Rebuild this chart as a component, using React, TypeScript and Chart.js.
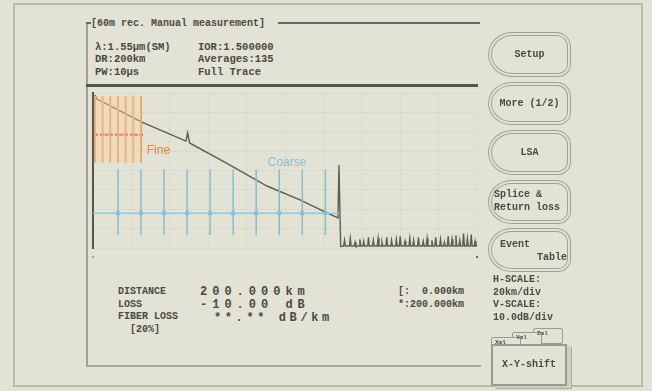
import React, { useEffect, useRef } from "react";
import { Chart, registerables } from "chart.js";
Chart.register(...registerables);

// ---- data ----
const traceKm = [1, 2, 25.5, 48.4, 49.3, 50.3, 70, 90.6, 107.8, 120.8, 127.6, 128.1, 129.0];
const traceDb = [-1, -3.1, -15.0, -24.8, -20.6, -25.8, -36.5, -48.0, -55.2, -61.4, -64.5, -37.2, -79.2];

const noiseFloorDb = -79;
const noiseSpikeKm = [131, 134, 136.5, 139, 141, 143.5, 146, 148.5, 150.5, 153, 155.5, 158, 160, 162.5, 165,
  167, 169.5, 172, 174, 176.5, 178.5, 181, 183, 185, 187, 189, 191, 193, 195, 197, 199];
const noiseSpikeDb = [-76, -75, -77, -75.5, -76.5, -74.5, -76, -75, -77, -74.5, -76, -75.5, -74, -76.5, -75,
  -76, -74.5, -76.5, -75, -76, -74.5, -75.5, -77, -74, -75.5, -73.5, -76, -72.5, -75, -73, -76.5];
const noiseEndKm = 200;

const fineKm = [1, 5, 9, 13, 17, 21, 25];
const fineTopDb = -1.5;
const fineBottomDb = -36;
const fineLevelDb = -21.5;

const coarseKm = [13, 25, 37, 49, 61, 73, 85, 97, 109, 121];
const coarseTopDb = -39.5;
const coarseBottomDb = -73.4;
const coarseLevelDb = -62;
const coarseSpanKm = [0, 128];

const xRangeKm = [0, 200];
const yRangeDb = [-80, 0];
const xStepKm = 20;
const yStepDb = 10;

const headerLeft = ["λ:1.55μm(SM)", "DR:200km", "PW:10μs"];
const headerRight = ["IOR:1.500000", "Averages:135", "Full Trace"];
const title = "[60m rec. Manual measurement]";

function segs(xs: number[], top: number, bottom: number) {
  const out: any[] = [];
  xs.forEach((k) => {
    out.push({ x: k, y: top }, { x: k, y: bottom }, { x: k, y: null });
  });
  return out;
}

function tracePoints() {
  const pts: any[] = traceKm.map((k, i) => ({ x: k, y: traceDb[i] }));
  noiseSpikeKm.forEach((k, i) => {
    pts.push({ x: k - 0.45, y: noiseFloorDb }, { x: k, y: noiseSpikeDb[i] }, { x: k + 0.45, y: noiseFloorDb });
  });
  pts.push({ x: noiseEndKm, y: noiseFloorDb });
  return pts;
}

const INK = "#4a4a42";
const MONO = '"Liberation Mono", "DejaVu Sans Mono", monospace';

function T(props: { x: number; y: number; children: any; size?: number; ls?: number; bold?: boolean; color?: string; align?: string; w?: number }) {
  const size = props.size ?? 11;
  return (
    <div
      style={{
        position: "absolute",
        left: props.x,
        top: props.y - size / 2,
        width: props.w,
        textAlign: (props.align as any) ?? "left",
        fontFamily: MONO,
        fontSize: size,
        lineHeight: 1,
        letterSpacing: props.ls ?? 0,
        fontWeight: props.bold === false ? "normal" : "bold",
        color: props.color ?? INK,
        whiteSpace: "pre",
      }}
    >
      {props.children}
    </div>
  );
}

function Btn(props: { x: number; y: number; w: number; h: number }) {
  return (
    <div
      style={{
        position: "absolute",
        left: props.x,
        top: props.y,
        width: props.w,
        height: props.h,
        boxSizing: "border-box",
        border: "4px double #a0a096",
        borderRadius: "26px 16px 14px 26px / 24px 16px 14px 24px",
      }}
    />
  );
}

function Line(props: { x: number; y: number; w: number; h: number; c?: string }) {
  return <div style={{ position: "absolute", left: props.x, top: props.y, width: props.w, height: props.h, background: props.c ?? "#8c8c82" }} />;
}

export default function App() {
  const ref = useRef<HTMLCanvasElement>(null);
  useEffect(() => {
    const labels = {
      id: "labels",
      afterDatasetsDraw(chart: any) {
        const { ctx, scales } = chart;
        ctx.save();
        ctx.font = '12px "Liberation Sans", Arial, sans-serif';
        ctx.textBaseline = "middle";
        ctx.fillStyle = "#e8823c";
        ctx.fillText("Fine", scales.x.getPixelForValue(28), scales.y.getPixelForValue(-30));
        ctx.fillStyle = "#86bcd6";
        ctx.fillText("Coarse", scales.x.getPixelForValue(91), scales.y.getPixelForValue(-36));
        ctx.restore();
      },
    };
    const chart = new Chart(ref.current!, {
      type: "line",
      data: {
        datasets: [
          {
            data: [{ x: fineKm[0], y: fineTopDb }, { x: fineKm[fineKm.length - 1], y: fineTopDb }],
            fill: { value: fineBottomDb },
            backgroundColor: "rgba(248,210,160,0.4)",
            borderWidth: 0,
            pointRadius: 0,
          } as any,
          {
            data: segs(fineKm, fineTopDb, fineBottomDb),
            borderColor: "#e8a064",
            borderWidth: 2,
            pointRadius: 0,
            spanGaps: false,
          },
          {
            data: fineKm.map((k) => ({ x: k, y: fineLevelDb })),
            borderColor: "#e44a3a",
            borderWidth: 2,
            borderDash: [3, 2],
            pointRadius: 1.8,
            pointBackgroundColor: "#d8402e",
            pointBorderWidth: 0,
          },
          {
            data: coarseSpanKm.map((k) => ({ x: k, y: coarseLevelDb })),
            borderColor: "#92c8e0",
            borderWidth: 1.5,
            pointRadius: 0,
          },
          {
            data: segs(coarseKm, coarseTopDb, coarseBottomDb),
            borderColor: "#88bcd2",
            borderWidth: 1.5,
            pointRadius: 0,
            spanGaps: false,
          },
          {
            data: coarseKm.map((k) => ({ x: k, y: coarseLevelDb })),
            showLine: false,
            pointRadius: 2.2,
            pointBackgroundColor: "#70aac6",
            pointBorderWidth: 0,
          },
          {
            data: tracePoints(),
            borderColor: "#5e5e50",
            borderWidth: 1.4,
            pointRadius: 0,
            tension: 0,
          },
        ],
      },
      options: {
        animation: false,
        responsive: false,
        maintainAspectRatio: false,
        events: [],
        layout: { padding: { left: 13, top: 5, right: 13, bottom: 10 } },
        plugins: { legend: { display: false }, tooltip: { enabled: false } },
        scales: {
          x: {
            type: "linear",
            min: xRangeKm[0],
            max: xRangeKm[1],
            ticks: { display: false, stepSize: xStepKm },
            grid: { color: "rgba(130,130,120,0.3)", drawTicks: false },
            border: { display: false, dash: [1, 3] },
          },
          y: {
            type: "linear",
            min: yRangeDb[0],
            max: yRangeDb[1],
            ticks: { display: false, stepSize: yStepDb },
            grid: { color: "rgba(130,130,120,0.3)", drawTicks: false },
            border: { display: true, color: "#55554a", width: 2, dash: [1, 3] },
          },
        },
      },
      plugins: [labels],
    });
    return () => chart.destroy();
  }, []);

  return (
    <div style={{ position: "absolute", left: 0, top: 0, width: 652, height: 391, background: "#e3e3d5", overflow: "hidden" }}>
      <div style={{ position: "absolute", left: 13, top: 3, width: 630, height: 384, border: "2px solid #babaae", boxSizing: "border-box" }} />
      <Line x={86} y={22} w={2} h={345} c="#a0a096" />
      <Line x={86} y={365} w={395} h={2} c="#a8a89e" />
      <Line x={86} y={22} w={5} h={1.5} c="#666" />
      <Line x={278} y={22} w={202} h={1.5} c="#666" />
      <T x={91} y={24} size={10}>{title}</T>
      {headerLeft.map((s, i) => (
        <T key={"l" + i} x={95} y={47 + i * 12.5} size={10.5}>{s}</T>
      ))}
      {headerRight.map((s, i) => (
        <T key={"r" + i} x={198} y={47 + i * 12.5} size={10.5}>{s}</T>
      ))}
      <Line x={86} y={84} w={392} h={3} c="#55554c" />

      <canvas ref={ref} width={410} height={170} style={{ position: "absolute", left: 80, top: 88, width: 410, height: 170 }} />
      <T x={91} y={257} size={7}>▫</T>
      <T x={475} y={257} size={7}>•</T>

      <T x={118} y={292} size={10}>DISTANCE</T>
      <T x={118} y={305} size={10}>LOSS</T>
      <T x={118} y={317} size={10}>FIBER LOSS</T>
      <T x={130} y={330} size={10}>[20%]</T>
      <T x={200} y={292} size={12} ls={5}>200.000km</T>
      <T x={200} y={305} size={12} ls={5}>-10.00 dB</T>
      <T x={214} y={318} size={12} ls={3.6}>**.** dB/km</T>
      <T x={398} y={292} size={10}>[:  0.000km</T>
      <T x={398} y={305} size={10}>*:200.000km</T>

      <Btn x={488} y={32} w={83} h={45} />
      <T x={488} y={55} size={10} align="center" w={83}>Setup</T>
      <Btn x={488} y={82} w={83} h={43} />
      <T x={488} y={104} size={10} align="center" w={83}>More (1/2)</T>
      <Btn x={488} y={130} w={83} h={45} />
      <T x={488} y={153} size={10} align="center" w={83}>LSA</T>
      <Btn x={488} y={180} w={83} h={44} />
      <T x={494} y={195} size={10}>Splice &</T>
      <T x={494} y={208} size={10}>Return loss</T>
      <Btn x={488} y={228} w={83} h={44} />
      <T x={500} y={245} size={10}>Event</T>
      <T x={537} y={258} size={10}>Table</T>

      <T x={493} y={280} size={10}>H-SCALE:</T>
      <T x={493} y={293} size={10}>20km/div</T>
      <T x={493} y={305} size={10}>V-SCALE:</T>
      <T x={493} y={318} size={10}>10.0dB/div</T>

      <div style={{ position: "absolute", left: 533, top: 328, width: 28, height: 14, border: "1.5px solid #9a9a90", background: "#e3e3d5", borderRadius: 2 }} />
      <div style={{ position: "absolute", left: 512, top: 332, width: 28, height: 14, border: "1.5px solid #9a9a90", background: "#e3e3d5", borderRadius: 2 }} />
      <div style={{ position: "absolute", left: 491, top: 337, width: 28, height: 12, border: "1.5px solid #9a9a90", background: "#e3e3d5", borderRadius: 2 }} />
      <T x={495} y={343} size={6}>Xml</T>
      <T x={516} y={338} size={6}>Yml</T>
      <T x={537} y={334} size={6}>Zml</T>
      <div style={{ position: "absolute", left: 491, top: 344, width: 76, height: 42, border: "2px solid #9a9a90", boxSizing: "border-box", background: "#e3e3d5", boxShadow: "4px 2px 0 #cfcfc2, 5px 3px 0 #a8a89c" }} />
      <T x={491} y={365} size={10} align="center" w={76}>X-Y-shift</T>
    </div>
  );
}
